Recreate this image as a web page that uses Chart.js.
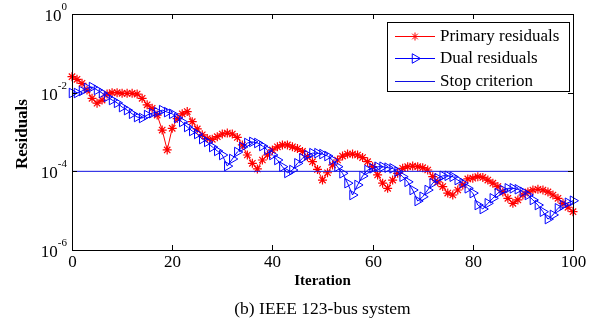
<!DOCTYPE html>
<html>
<head>
<meta charset="utf-8">
<script src="https://cdn.jsdelivr.net/npm/chart.js@4.4.0/dist/chart.umd.min.js"></script>
<style>
  html, body { margin: 0; padding: 0; background: #fff; }
  #wrap { width: 599px; height: 325px; }
</style>
</head>
<body>
<div id="wrap"><canvas id="myChart" width="599" height="325"></canvas></div>
<script>
const xTicks = [0, 20, 40, 60, 80, 100];
const yTickExponents = [0, -2, -4, -6];
const stopCriterion = 1e-4;

const primaryResiduals = [
  2.55e-2, 2.19e-2, 1.73e-2, 1.17e-2, 7.2e-3, 5.4e-3, 6.5e-3, 9.2e-3, 1.0e-2, 1.0e-2,
  9.6e-3, 9.6e-3, 9.6e-3, 9.2e-3, 7.2e-3, 4.9e-3, 4.0e-3, 2.7e-3, 1.12e-3, 3.5e-4,
  1.24e-3, 2.2e-3, 2.9e-3, 3.3e-3, 1.83e-3, 1.2e-3, 8.5e-4, 6.8e-4, 6.5e-4, 7.6e-4,
  8.9e-4, 9.4e-4, 8.9e-4, 7.3e-4, 4.7e-4, 2.6e-4, 1.6e-4, 1.15e-4, 1.94e-4, 2.6e-4,
  3.5e-4, 4.2e-4, 4.7e-4, 4.7e-4, 4.2e-4, 3.8e-4, 3.2e-4, 2.35e-4, 1.76e-4, 1.12e-4,
  6.0e-5, 9.2e-5, 1.45e-4, 1.94e-4, 2.45e-4, 2.75e-4, 2.75e-4, 2.6e-4, 2.24e-4, 1.76e-4,
  1.31e-4, 8.1e-5, 5.0e-5, 3.7e-5, 6.0e-5, 8.9e-5, 1.19e-4, 1.31e-4, 1.36e-4, 1.31e-4,
  1.24e-4, 1.08e-4, 7.3e-5, 5.4e-5, 4.1e-5, 2.8e-5, 2.5e-5, 3.35e-5, 4.5e-5, 6.4e-5,
  6.7e-5, 7.3e-5, 7.0e-5, 6.0e-5, 5.0e-5, 4.1e-5, 3.0e-5, 2.06e-5, 1.54e-5, 1.87e-5,
  2.5e-5, 3.0e-5, 3.35e-5, 3.5e-5, 3.35e-5, 3.0e-5, 2.5e-5, 2.06e-5, 1.54e-5, 1.22e-5,
  9.4e-6,
];

const dualResiduals = [
  9.8e-3, 9.8e-3, 1.1e-2, 1.31e-2, 1.39e-2, 1.17e-2, 9.8e-3, 7.8e-3, 6.5e-3, 5.5e-3,
  4.3e-3, 3.6e-3, 2.9e-3, 2.4e-3, 2.27e-3, 2.7e-3, 3.0e-3, 3.2e-3, 3.6e-3, 3.2e-3,
  2.9e-3, 2.27e-3, 1.8e-3, 1.34e-3, 1.06e-3, 8.9e-4, 6.6e-4, 5.6e-4, 4.15e-4, 3.3e-4,
  2.6e-4, 1.36e-4, 2.06e-4, 3.1e-4, 4.15e-4, 5.25e-4, 5.6e-4, 5.25e-4, 4.4e-4, 3.5e-4,
  2.6e-4, 1.94e-4, 1.31e-4, 9.1e-5, 1.08e-4, 1.6e-4, 2.14e-4, 2.6e-4, 2.9e-4, 2.9e-4,
  2.75e-4, 2.45e-4, 1.94e-4, 1.31e-4, 8.9e-5, 5.0e-5, 2.5e-5, 4.5e-5, 7.6e-5, 1.08e-4,
  1.19e-4, 1.31e-4, 1.31e-4, 1.24e-4, 1.19e-4, 9.8e-5, 7.3e-5, 5.4e-5, 3.35e-5, 1.76e-5,
  2.26e-5, 3.35e-5, 5.0e-5, 6.7e-5, 7.7e-5, 7.7e-5, 7.3e-5, 6.0e-5, 5.0e-5, 3.7e-5,
  2.8e-5, 1.39e-5, 1.1e-5, 1.54e-5, 2.06e-5, 2.8e-5, 3.35e-5, 3.7e-5, 3.7e-5, 3.5e-5,
  3.0e-5, 2.5e-5, 1.87e-5, 1.39e-5, 9.4e-6, 6.1e-6, 7.8e-6, 1.15e-5, 1.39e-5, 1.59e-5,
  1.79e-5,
];

const SERIF = '"Liberation Serif", "Times New Roman", serif';
const RED = "#ff0000";
const BLUE = "#0000ff";
const STOP_BLUE = "#1010e0";

function toPoints(values) {
  return values.map((v, i) => ({ x: i, y: v }));
}

// box, inward ticks, labels, legend -- drawn matlab style
const axesDecor = {
  id: "axesDecor",
  afterDatasetsDraw(chart) {
    const { ctx, chartArea: a, scales } = chart;
    ctx.save();
    ctx.strokeStyle = "#000";
    ctx.lineWidth = 1;
    ctx.strokeRect(a.left + 0.5, a.top + 0.5, a.right - a.left, a.bottom - a.top);

    ctx.fillStyle = "#000";
    ctx.font = "17px " + SERIF;
    ctx.textAlign = "center";
    ctx.textBaseline = "top";
    xTicks.forEach((t) => {
      const px = Math.round(scales.x.getPixelForValue(t)) + 0.5;
      ctx.beginPath();
      ctx.moveTo(px, a.bottom);
      ctx.lineTo(px, a.bottom - 5);
      ctx.moveTo(px, a.top);
      ctx.lineTo(px, a.top + 5);
      ctx.stroke();
      ctx.fillText(String(t), px, a.bottom + 4);
    });

    yTickExponents.forEach((e) => {
      const py = Math.round(scales.y.getPixelForValue(Math.pow(10, e))) + 0.5;
      ctx.beginPath();
      ctx.moveTo(a.left, py);
      ctx.lineTo(a.left + 5, py);
      ctx.moveTo(a.right, py);
      ctx.lineTo(a.right - 5, py);
      ctx.stroke();
      const sup = String(e);
      ctx.font = "11px " + SERIF;
      const supW = ctx.measureText(sup).width;
      ctx.textAlign = "left";
      ctx.textBaseline = "alphabetic";
      const supX = a.left - 5 - supW;
      ctx.fillText(sup, supX, py - 5);
      ctx.font = "17px " + SERIF;
      ctx.textAlign = "right";
      ctx.textBaseline = "middle";
      ctx.fillText("10", supX, py + 2);
    });

    const cx = (a.left + a.right) / 2;
    ctx.textAlign = "center";
    ctx.textBaseline = "middle";
    ctx.font = "bold 15px " + SERIF;
    ctx.fillText("Iteration", cx, a.bottom + 31);
    ctx.font = "17.5px " + SERIF;
    ctx.fillText("(b) IEEE 123-bus system", cx, a.bottom + 59);

    ctx.save();
    ctx.translate(23, (a.top + a.bottom) / 2 + 2);
    ctx.rotate(-Math.PI / 2);
    ctx.font = "bold 17px " + SERIF;
    ctx.fillText("Residuals", 0, 0);
    ctx.restore();

    // legend
    const lx = a.right - 186, ly = a.top + 8, lw = 182, lh = 69;
    ctx.fillStyle = "#fff";
    ctx.fillRect(lx, ly, lw, lh);
    ctx.strokeStyle = "#000";
    ctx.strokeRect(lx + 0.5, ly + 0.5, lw, lh);
    const items = [
      { text: "Primary residuals", color: RED, style: "star", radius: 4, rot: 0 },
      { text: "Dual residuals", color: BLUE, style: "triangle", radius: 5.5, rot: 90 },
      { text: "Stop criterion", color: STOP_BLUE, style: false, radius: 0, rot: 0 },
    ];
    items.forEach((it, k) => {
      const y = ly + 13.5 + k * 22.5;
      ctx.strokeStyle = it.color;
      ctx.lineWidth = 1;
      ctx.beginPath();
      ctx.moveTo(lx + 8, Math.round(y) + 0.5);
      ctx.lineTo(lx + 48, Math.round(y) + 0.5);
      ctx.stroke();
      if (it.style) {
        ctx.fillStyle = "rgba(0,0,0,0)";
        Chart.helpers.drawPoint(ctx, { pointStyle: it.style, radius: it.radius, rotation: it.rot, borderWidth: 1 }, lx + 28, Math.round(y) + 0.5);
      }
      ctx.fillStyle = "#000";
      ctx.font = "17px " + SERIF;
      ctx.textAlign = "left";
      ctx.textBaseline = "middle";
      ctx.fillText(it.text, lx + 53, y + 1);
    });
    ctx.restore();
  },
};

function createChart() {
  const ctx = document.getElementById("myChart").getContext("2d");
  return new Chart(ctx, {
    type: "line",
    data: {
      datasets: [
        {
          label: "Primary residuals",
          data: toPoints(primaryResiduals),
          borderColor: RED,
          borderWidth: 1,
          backgroundColor: "rgba(0,0,0,0)",
          pointStyle: "star",
          pointRadius: 4.5,
          pointBorderColor: RED,
          pointBorderWidth: 1.2,
          tension: 0,
          clip: false,
          order: 2,
        },
        {
          label: "Dual residuals",
          data: toPoints(dualResiduals),
          borderColor: BLUE,
          borderWidth: 1,
          backgroundColor: "rgba(0,0,0,0)",
          pointStyle: "triangle",
          pointRotation: 90,
          pointRadius: 5.5,
          pointBackgroundColor: "rgba(0,0,0,0)",
          pointBorderColor: BLUE,
          pointBorderWidth: 1,
          tension: 0,
          clip: false,
          order: 1,
        },
        {
          label: "Stop criterion",
          data: [
            { x: xTicks[0], y: stopCriterion },
            { x: xTicks[xTicks.length - 1], y: stopCriterion },
          ],
          borderColor: STOP_BLUE,
          borderWidth: 1,
          pointRadius: 0,
          order: 0,
        },
      ],
    },
    options: {
      responsive: false,
      animation: false,
      layout: { padding: { left: 72, top: 14, right: 26, bottom: 75 } },
      plugins: { legend: { display: false }, tooltip: { enabled: false } },
      scales: {
        x: { type: "linear", min: 0, max: 100, display: false },
        y: { type: "logarithmic", min: 1e-6, max: 1, display: false },
      },
    },
    plugins: [axesDecor],
  });
}

createChart();
</script>
</body>
</html>
